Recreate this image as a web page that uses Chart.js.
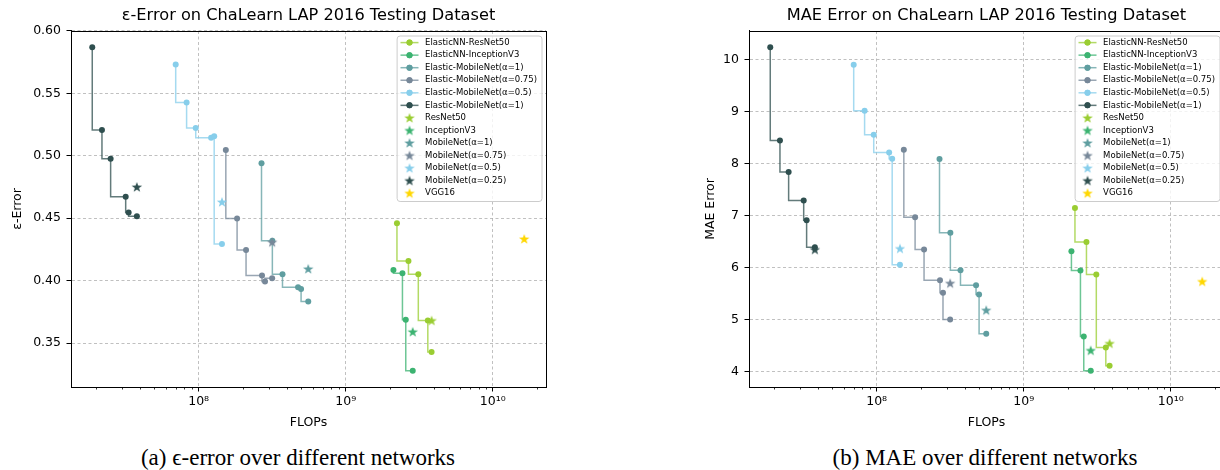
<!DOCTYPE html>
<html>
<head>
<meta charset="utf-8">
<script src="https://cdn.jsdelivr.net/npm/chart.js@4.4.0/dist/chart.umd.min.js"></script>
<style>
html, body { margin: 0; padding: 0; background: #fff; overflow: hidden; width: 1220px; height: 470px; }
canvas { position: absolute; top: 0; }
#errChart { left: 0; }
#maeChart { left: 690px; }
.cap { position: absolute; top: 446px; line-height: 1; font-family: "Liberation Serif", "DejaVu Serif", serif;
       font-size: 23px; white-space: nowrap; transform: translateX(-50%); }
</style>
</head>
<body>
<canvas id="errChart" width="552" height="440"></canvas>
<canvas id="maeChart" width="540" height="440"></canvas>
<div class="cap" style="left:298px">(a) ϵ-error over different networks</div>
<div class="cap" style="left:985px">(b) MAE over different networks</div>
<script>
Chart.defaults.font.family = 'DejaVu Sans';
Chart.defaults.color = '#000';

// FLOPs per exit of each elastic network (same for both plots)
const resnetFlops    = [2.23e9, 2.67e9, 3.115e9, 3.615e9, 3.835e9];
const inceptionFlops = [2.11e9, 2.43e9, 2.56e9, 2.855e9];
const mobile100Flops = [2.675e8, 3.17e8, 3.715e8, 4.74e8, 4.97e8, 5.56e8];
const mobile075Flops = [1.53e8, 1.825e8, 2.10e8, 2.695e8, 2.825e8, 3.16e8];
const mobile050Flops = [6.98e7, 8.28e7, 9.55e7, 1.216e8, 1.275e8, 1.44e8];
const mobile025Flops = [1.89e7, 2.2e7, 2.52e7, 3.19e7, 3.34e7, 3.8e7];

const elasticNames = ['ElasticNN-ResNet50', 'ElasticNN-InceptionV3', 'Elastic-MobileNet(α=1)',
                      'Elastic-MobileNet(α=0.75)', 'Elastic-MobileNet(α=0.5)', 'Elastic-MobileNet(α=1)'];
const elasticColors = ['#9acd32', '#3cb371', '#5f9ea0', '#778899', '#87ceeb', '#2f4f4f'];

// epsilon error
const epsResnet    = [0.446, 0.4158, 0.4052, 0.3681, 0.3428];
const epsInception = [0.4086, 0.406, 0.3686, 0.3278];
const epsMobile100 = [0.494, 0.432, 0.4052, 0.3948, 0.3934, 0.3833];
const epsMobile075 = [0.5046, 0.4497, 0.4246, 0.4041, 0.3993, 0.402];
const epsMobile050 = [0.5732, 0.5428, 0.5222, 0.5145, 0.5156, 0.4294];
const epsMobile025 = [0.587, 0.5206, 0.4977, 0.4673, 0.4545, 0.4516];

// MAE
const maeResnet    = [7.148, 6.494, 5.865, 4.462, 4.11];
const maeInception = [6.313, 5.942, 4.673, 4.013];
const maeMobile100 = [8.09, 6.673, 5.948, 5.66, 5.481, 4.725];
const maeMobile075 = [8.269, 6.967, 6.346, 5.756, 5.513, 5.0];
const maeMobile050 = [9.904, 9.019, 8.558, 8.218, 8.096, 6.052];
const maeMobile025 = [10.244, 8.448, 7.84, 7.294, 6.91, 6.39];

// plain networks (stars)
const baseNames  = ['ResNet50', 'InceptionV3', 'MobileNet(α=1)', 'MobileNet(α=0.75)',
                    'MobileNet(α=0.5)', 'MobileNet(α=0.25)', 'VGG16'];
const baseColors = ['#9acd32', '#3cb371', '#5f9ea0', '#778899', '#87ceeb', '#2f4f4f', '#ffd700'];
const baseFlops  = [3.835e9, 2.855e9, 5.56e8, 3.16e8, 1.44e8, 3.8e7, 1.635e10];
const baseEps    = [0.368, 0.359, 0.4094, 0.4308, 0.463, 0.475, 0.4334];
const baseMae    = [4.538, 4.404, 5.179, 5.698, 6.365, 6.346, 5.731];

const xMajor = [1e8, 1e9, 1e10];
const yTicksEps = [0.35, 0.40, 0.45, 0.50, 0.55, 0.60];
const yTicksMae = [4, 5, 6, 7, 8, 9, 10];

const sup = {'0':'⁰','1':'¹','2':'²','3':'³','4':'⁴','5':'⁵','6':'⁶','7':'⁷','8':'⁸','9':'⁹'};
function powLabel(v) {
  const e = String(Math.round(Math.log10(v)));
  return '10' + e.split('').map(d => sup[d]).join('');
}

function alpha(hex, a) {
  const n = parseInt(hex.slice(1), 16);
  return 'rgba(' + (n >> 16) + ',' + ((n >> 8) & 255) + ',' + (n & 255) + ',' + a + ')';
}

function starImg(color) {
  const c = document.createElement('canvas');
  c.width = 12; c.height = 12;
  const g = c.getContext('2d');
  g.beginPath();
  for (let i = 0; i < 10; i++) {
    const r = i % 2 ? 2.2 : 5.5;
    const a = -Math.PI / 2 + i * Math.PI / 5;
    g.lineTo(6 + r * Math.cos(a), 6.4 + r * Math.sin(a));
  }
  g.closePath();
  g.fillStyle = color;
  g.fill();
  return c;
}

function makeDatasets(elasticErr, baseErr) {
  const flops = [resnetFlops, inceptionFlops, mobile100Flops, mobile075Flops, mobile050Flops, mobile025Flops];
  const sets = [];
  flops.forEach((fx, i) => {
    sets.push({
      label: elasticNames[i],
      data: fx.map((x, k) => ({x: x, y: elasticErr[i][k]})),
      stepped: 'after',
      borderColor: alpha(elasticColors[i], 0.75),
      borderWidth: 1.5,
      backgroundColor: elasticColors[i],
      pointBackgroundColor: elasticColors[i],
      pointBorderWidth: 0,
      pointRadius: 3,
      pointStyle: 'circle'
    });
  });
  baseNames.forEach((name, i) => {
    sets.push({
      label: name,
      data: [{x: baseFlops[i], y: baseErr[i]}],
      showLine: false,
      pointStyle: starImg(baseColors[i]),
      pointRadius: 5,
      backgroundColor: baseColors[i],
      borderColor: baseColors[i]
    });
  });
  // later series on top, like matplotlib
  sets.forEach((s, i) => { s.order = sets.length - i; });
  return sets;
}

// frame, minor log ticks and the boxed legend
const framePlugin = {
  id: 'frame',
  afterDraw(chart) {
    const ctx = chart.ctx, a = chart.chartArea, xs = chart.scales.x;
    ctx.save();
    ctx.strokeStyle = '#000';
    ctx.lineWidth = 0.8;
    ctx.beginPath();
    for (let e = 7; e <= 10; e++) {
      for (let m = 2; m <= 9; m++) {
        const v = m * Math.pow(10, e);
        if (v < xs.min || v > xs.max) continue;
        const px = Math.round(xs.getPixelForValue(v)) + 0.5;
        ctx.moveTo(px, a.bottom);
        ctx.lineTo(px, a.bottom + 2.5);
      }
    }
    ctx.stroke();
    ctx.lineWidth = 1;
    ctx.strokeRect(Math.round(a.left) + 0.5, Math.round(a.top) + 0.5,
                   Math.round(a.right) - Math.round(a.left), Math.round(a.bottom) - Math.round(a.top));

    const sets = chart.data.datasets;
    ctx.font = '8.5px "DejaVu Sans"';
    const textW = Math.max(...sets.map(s => ctx.measureText(s.label).width));
    const rowH = 12.55;
    const w = 28 + textW + 5, h = 6.6 + (sets.length - 1) * rowH + 8.3;
    const x0 = a.right - 4 - w, y0 = a.top + 5;
    ctx.beginPath();
    ctx.roundRect(x0, y0, w, h, 3);
    ctx.fillStyle = 'rgba(255,255,255,0.8)';
    ctx.fill();
    ctx.strokeStyle = '#cccccc';
    ctx.stroke();
    sets.forEach((s, i) => {
      const cy = y0 + 6.6 + i * rowH;
      if (s.showLine !== false) {
        ctx.strokeStyle = s.borderColor;
        ctx.lineWidth = 1.5;
        ctx.beginPath();
        ctx.moveTo(x0 + 3.4, cy);
        ctx.lineTo(x0 + 21.4, cy);
        ctx.stroke();
        ctx.fillStyle = s.pointBackgroundColor;
        Chart.helpers.drawPoint(ctx, {pointStyle: 'circle', radius: 3, rotation: 0, borderWidth: 0}, x0 + 12.4, cy);
        ctx.fill();
      } else {
        Chart.helpers.drawPoint(ctx, {pointStyle: s.pointStyle, radius: 5, rotation: 0, borderWidth: 0}, x0 + 12.4, cy);
      }
      ctx.fillStyle = '#000';
      ctx.textAlign = 'left';
      ctx.textBaseline = 'middle';
      ctx.fillText(s.label, x0 + 28, cy);
    });
    ctx.restore();
  }
};

function makeChart(id, sets, opt) {
  return new Chart(document.getElementById(id), {
    type: 'line',
    data: {datasets: sets},
    options: {
      responsive: false,
      animation: false,
      layout: {padding: {left: 0, right: opt.padRight, top: 0, bottom: 0}},
      plugins: {
        legend: {display: false},
        tooltip: {enabled: false},
        title: {
          display: true, text: opt.title, fullSize: false,
          font: {size: 16.2, weight: 'normal'}, color: '#000',
          padding: {top: 6.5, bottom: 5.06}
        }
      },
      scales: {
        x: {
          type: 'logarithmic', min: 1.355e7, max: 2.3e10,
          afterBuildTicks: s => { s.ticks = xMajor.map(v => ({value: v})); },
          afterFit: s => { s.height = 53; },
          ticks: {callback: v => powLabel(v), font: {size: 12.5}, padding: 3, maxRotation: 0, autoSkip: false},
          grid: {color: '#b0b0b0', lineWidth: 0.8, tickColor: '#000', tickLength: 4.5, tickWidth: 1},
          border: {color: '#000', width: 1, dash: [3, 2.5]},
          title: {display: true, text: 'FLOPs', font: {size: 12.5}, padding: {top: 0, bottom: 9.5}}
        },
        y: {
          type: 'linear', min: opt.yMin, max: opt.yMax,
          afterBuildTicks: s => { s.ticks = opt.yTicks.map(v => ({value: v})); },
          afterFit: s => { s.width = opt.yWidth; },
          ticks: {callback: opt.fmt, font: {size: 12.5}, padding: 5.5, autoSkip: false},
          grid: {color: '#b0b0b0', lineWidth: 0.8, tickColor: '#000', tickLength: 4.5, tickWidth: 1},
          border: {color: '#000', width: 1, dash: [3, 2.5]},
          title: {display: true, text: opt.yTitle, font: {size: 12.5}, padding: {top: opt.yTitlePad, bottom: 0}}
        }
      }
    },
    plugins: [framePlugin]
  });
}

makeChart('errChart',
  makeDatasets([epsResnet, epsInception, epsMobile100, epsMobile075, epsMobile050, epsMobile025], baseEps), {
    title: 'ε-Error on ChaLearn LAP 2016 Testing Dataset',
    yTitle: 'ε-Error', yTicks: yTicksEps, yMin: 0.3148, yMax: 0.6,
    fmt: v => v.toFixed(2), yWidth: 71, yTitlePad: 10.5, padRight: 4
  });

makeChart('maeChart',
  makeDatasets([maeResnet, maeInception, maeMobile100, maeMobile075, maeMobile050, maeMobile025], baseMae), {
    title: 'MAE Error on ChaLearn LAP 2016 Testing Dataset',
    yTitle: 'MAE Error', yTicks: yTicksMae, yMin: 3.70, yMax: 10.556,
    fmt: v => String(v), yWidth: 59, yTitlePad: 13.5, padRight: 2
  });
</script>
</body>
</html>
